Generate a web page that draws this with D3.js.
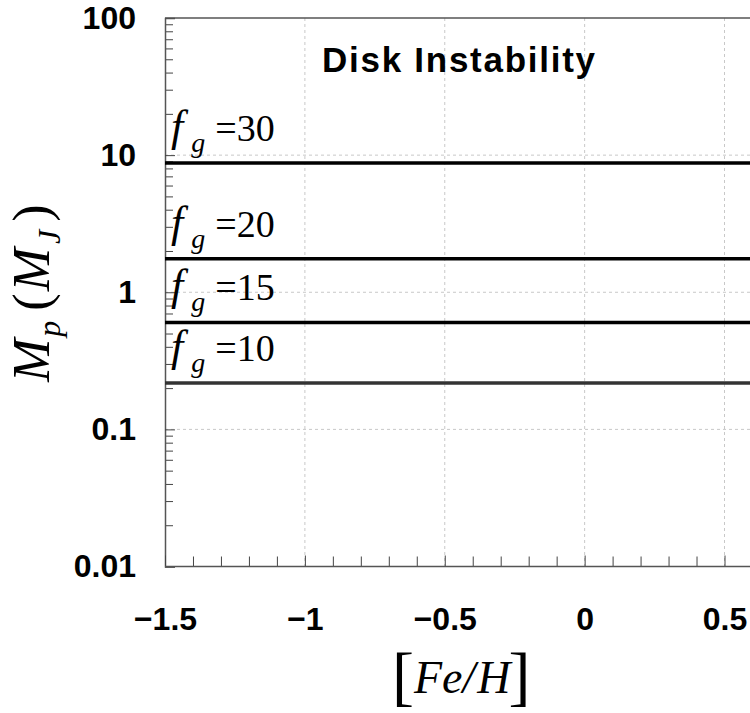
<!DOCTYPE html>
<html>
<head>
<meta charset="utf-8">
<script src="https://cdn.jsdelivr.net/npm/d3@7"></script>
<style>
  body { margin: 0; background: #fff; }
  svg { display: block; }
</style>
</head>
<body>
<svg id="chart" width="750" height="713"></svg>
<script>
// data
const fgLabels = ["30", "20", "15", "10"];
const massValues = [8.75, 1.755, 0.602, 0.218];
const lineColors = ["#000", "#000", "#000", "#333"];
const feRange = [-1.5, 0.7];
const yTicks = [100, 10, 1, 0.1, 0.01];
const xTicks = [-1.5, -1, -0.5, 0, 0.5];

const svg = d3.select("#chart");
const width = 750, height = 713;
const margins = { left: 165, top: 18, bottom: 146 };

// scales
const x = d3.scaleLinear().domain([-1.5, 0.5]).range([margins.left, 724.5]);
const y = d3.scaleLog().domain([0.01, 100]).range([height - margins.bottom - 0.5, margins.top]);

const plotRight = x(feRange[1]);
const sans = "'Liberation Sans', Arial, sans-serif";
const serif = "'Liberation Serif', 'Times New Roman', serif";

// grid
const grid = svg.append("g").attr("stroke", "#c8c8c8").attr("stroke-dasharray", "3,3").attr("stroke-width", 1);
xTicks.filter((d) => d > -1.5).forEach((d) => {
  grid.append("line").attr("x1", x(d)).attr("x2", x(d)).attr("y1", y(100)).attr("y2", y(0.01));
});
yTicks.filter((d) => d < 100 && d > 0.01).forEach((d) => {
  grid.append("line").attr("x1", x(-1.5)).attr("x2", plotRight).attr("y1", y(d)).attr("y2", y(d));
});

// minor y ticks
const yMinor = [];
[0.01, 0.1, 1, 10].forEach((dec) => {
  for (let k = 2; k <= 9; k++) yMinor.push(dec * k);
});
svg
  .append("g")
  .attr("transform", `translate(${x(-1.5)},0)`)
  .call(d3.axisLeft(y).tickValues(yMinor).tickSize(-8).tickFormat(""))
  .call((g) => g.select(".domain").remove())
  .selectAll("line")
  .attr("stroke", "#444");

// major y axis
const yAxis = svg
  .append("g")
  .attr("transform", `translate(${x(-1.5)},0)`)
  .call(d3.axisLeft(y).tickValues(yTicks).tickSize(-10).tickPadding(29).tickFormat((d) => String(d)));
yAxis.select(".domain").attr("stroke", "#555").attr("stroke-width", 1.5);
yAxis.selectAll("line").attr("stroke", "#444");
yAxis
  .selectAll("text")
  .attr("font-family", sans)
  .attr("font-weight", "bold")
  .attr("font-size", 32)
  .attr("fill", "#000");

// x ticks
const xMinor = d3.range(-15, 8).map((i) => i / 10).filter((d) => Math.abs(d * 2 - Math.round(d * 2)) > 1e-6);
svg
  .append("g")
  .attr("transform", `translate(0,${y(0.01)})`)
  .call(d3.axisBottom(x).tickValues(xMinor).tickSize(-10).tickFormat(""))
  .call((g) => g.select(".domain").remove())
  .selectAll("line")
  .attr("stroke", "#444");

const xAxis = svg
  .append("g")
  .attr("transform", `translate(0,${y(0.01)})`)
  .call(d3.axisBottom(x).tickValues(xTicks).tickSize(-11).tickPadding(41).tickFormat(d3.format("~g")));
xAxis.select(".domain").remove();
xAxis.selectAll("line").attr("stroke", "#444");
xAxis
  .selectAll("text")
  .attr("font-family", sans)
  .attr("font-weight", "bold")
  .attr("font-size", 32)
  .attr("fill", "#000");

// bottom and top border lines
svg.append("line").attr("x1", x(-1.5)).attr("x2", plotRight).attr("y1", y(0.01)).attr("y2", y(0.01)).attr("stroke", "#555").attr("stroke-width", 1.5);
svg.append("line").attr("x1", x(-1.5)).attr("x2", plotRight).attr("y1", y(100)).attr("y2", y(100)).attr("stroke", "#555").attr("stroke-width", 1.5);

// mass lines
massValues.forEach((m, i) => {
  svg
    .append("path")
    .datum([[feRange[0], m], [feRange[1], m]])
    .attr("fill", "none")
    .attr("stroke", lineColors[i])
    .attr("stroke-width", 3.5)
    .attr("d", d3.line().x((d) => x(d[0])).y((d) => y(d[1])));

  const t = svg
    .append("text")
    .attr("x", x(-1.5) + 6)
    .attr("y", y(m) - 22)
    .attr("font-family", serif)
    .attr("font-size", 38)
    .attr("fill", "#000");
  t.append("tspan").attr("font-style", "italic").attr("font-size", 44).text("f");
  t.append("tspan").attr("font-style", "italic").attr("font-size", 28).attr("dx", 8).attr("dy", 11).text("g");
  t.append("tspan").attr("dx", 10).attr("dy", -11).text("=" + fgLabels[i]);
});

// title
svg
  .append("text")
  .attr("x", 322)
  .attr("y", 72)
  .attr("font-family", sans)
  .attr("font-weight", "bold")
  .attr("font-size", 35)
  .attr("textLength", 273)
  .attr("lengthAdjust", "spacing")
  .text("Disk Instability");

// y axis label
const yl = svg
  .append("text")
  .attr("transform", "translate(49,382) rotate(-90)")
  .attr("font-family", serif)
  .attr("font-size", 52)
  .attr("fill", "#000");
yl.append("tspan").attr("font-style", "italic").text("M");
yl.append("tspan").attr("font-style", "italic").attr("font-size", 32).attr("dx", 2).attr("dy", 11).text("p");
yl.append("tspan").attr("dy", -11).attr("dx", 10).text("(");
yl.append("tspan").attr("font-style", "italic").attr("dx", 2).text("M");
yl.append("tspan").attr("font-style", "italic").attr("font-size", 32).attr("dx", 4).attr("dy", 11).text("J");
yl.append("tspan").attr("dy", -11).attr("dx", 8).text(")");

// x axis label
const xl = svg
  .append("text")
  .attr("x", 392)
  .attr("y", 693)
  .attr("font-family", serif)
  .attr("font-size", 46)
  .attr("fill", "#000");
xl.append("tspan").attr("font-size", 66).attr("dy", 5).text("[");
xl.append("tspan").attr("font-style", "italic").attr("dy", -5).attr("dx", 0).text("Fe/");
xl.append("tspan").attr("font-style", "italic").attr("dx", 2).text("H");
xl.append("tspan").attr("font-size", 66).attr("dy", 5).attr("dx", -2).text("]");
</script>
</body>
</html>
